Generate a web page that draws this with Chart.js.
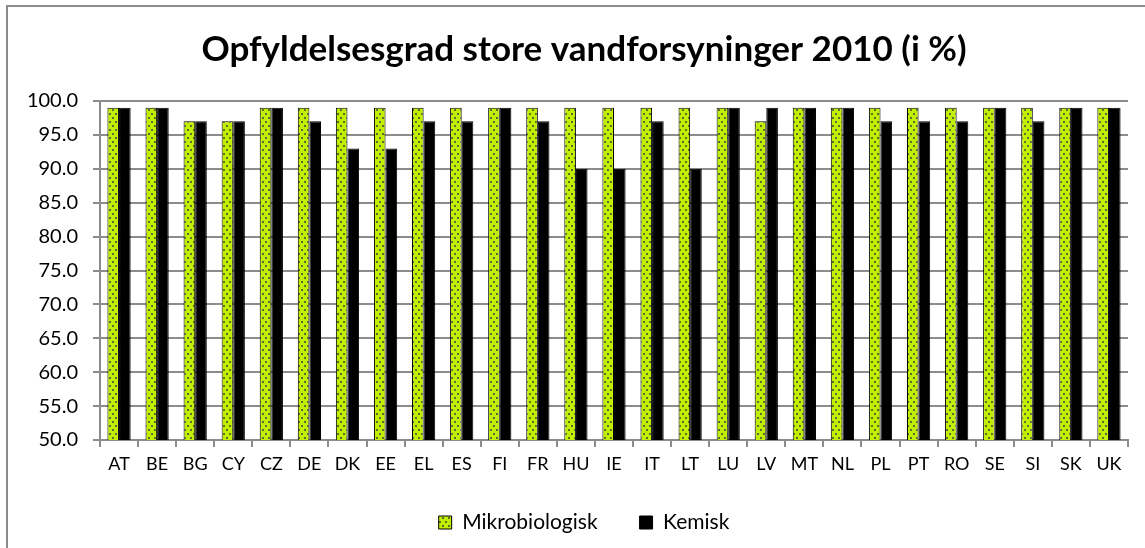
<!DOCTYPE html>
<html>
<head>
<meta charset="utf-8">
<script src="https://cdn.jsdelivr.net/npm/chart.js@4"></script>
<style>
  html, body { margin: 0; padding: 0; background: #fff; }
  #wrap { position: relative; width: 1145px; height: 548px; overflow: hidden; }
  #frame { position: absolute; left: 6px; top: 5px; width: 1160px; height: 560px; border: 2px solid #8c8c8c; box-sizing: border-box; }
  #chart { position: absolute; left: 0; top: 0; }
</style>
</head>
<body>
<div id="wrap">
  <div id="frame"></div>
  <canvas id="chart" width="1145" height="548"></canvas>
</div>
<script>
// --- data ---
const countries = ["AT", "BE", "BG", "CY", "CZ", "DE", "DK", "EE", "EL", "ES", "FI", "FR", "HU", "IE",
  "IT", "LT", "LU", "LV", "MT", "NL", "PL", "PT", "RO", "SE", "SI", "SK", "UK"];
const mikrobiologisk = [99, 99, 97, 97, 99, 99, 99, 99, 99, 99, 99, 99, 99, 99,
  99, 99, 99, 97, 99, 99, 99, 99, 99, 99, 99, 99, 99];
const kemisk = [99, 99, 97, 97, 99, 97, 93, 93, 97, 97, 99, 97, 90, 90,
  97, 90, 99, 99, 99, 99, 97, 97, 97, 99, 97, 99, 99];
const yTicks = [50, 55, 60, 65, 70, 75, 80, 85, 90, 95, 100];

const FONT = "Lato, 'Open Sans', sans-serif";

// --- dotted green fill ---
function dotPattern() {
  const c = document.createElement("canvas");
  c.width = 6; c.height = 8;
  const g = c.getContext("2d");
  g.fillStyle = "#c2ef00";
  g.fillRect(0, 0, 6, 8);
  g.fillStyle = "#5d6d30";
  g.fillRect(1, 1, 2, 2);
  g.fillRect(4, 5, 2, 2);
  return g.createPattern(c, "repeat");
}
const greenFill = dotPattern();

// title + legend are centred on the whole (wider) frame, not the plot
const shiftCentre = {
  id: "shiftCentre",
  afterLayout(chart) {
    [chart.titleBlock, chart.legend].forEach(b => { b.left += 15; b.right += 15; });
  },
};

new Chart(document.getElementById("chart"), {
  type: "bar",
  data: {
    labels: countries,
    datasets: [
      {
        label: "Mikrobiologisk",
        data: mikrobiologisk,
        backgroundColor: greenFill,
        borderColor: "#000",
        borderWidth: 1,
      },
      {
        label: "Kemisk",
        data: kemisk,
        backgroundColor: "#000",
        borderColor: "#000",
        borderWidth: 1,
      },
    ],
  },
  options: {
    responsive: false,
    animation: false,
    layout: { padding: { left: 10, right: 17, top: 14, bottom: 5 } },
    datasets: { bar: { categoryPercentage: 0.61, barPercentage: 1 } },
    scales: {
      y: {
        min: 50,
        max: 100,
        afterBuildTicks: axis => { axis.ticks = yTicks.map(v => ({ value: v })); },
        afterFit: axis => { axis.width = 90; },
        ticks: {
          color: "#000",
          font: { family: FONT, size: 20 },
          padding: 15,
          callback: v => v.toFixed(1),
        },
        grid: { color: "#8c8c8c", lineWidth: 2, tickLength: 7 },
        border: { color: "#8c8c8c", width: 2 },
      },
      x: {
        afterFit: axis => { axis.height = 30; },
        ticks: { color: "#000", font: { family: FONT, size: 18 }, padding: 6, maxRotation: 0, autoSkip: false },
        grid: { offset: true, drawOnChartArea: false, color: "#8c8c8c", lineWidth: 2, tickLength: 7 },
        border: { color: "#8c8c8c", width: 2 },
      },
    },
    plugins: {
      title: {
        display: true,
        text: "Opfyldelsesgrad store vandforsyninger 2010 (i %)",
        color: "#000",
        font: { family: FONT, size: 35, weight: "bold" },
        padding: { top: 15, bottom: 30 },
      },
      legend: {
        position: "bottom",
        labels: {
          color: "#000",
          font: { family: FONT, size: 21 },
          boxWidth: 13,
          boxHeight: 13,
          padding: 42,
          useBorderRadius: false,
        },
      },
      tooltip: { enabled: false },
    },
  },
  plugins: [shiftCentre],
});
</script>
</body>
</html>
